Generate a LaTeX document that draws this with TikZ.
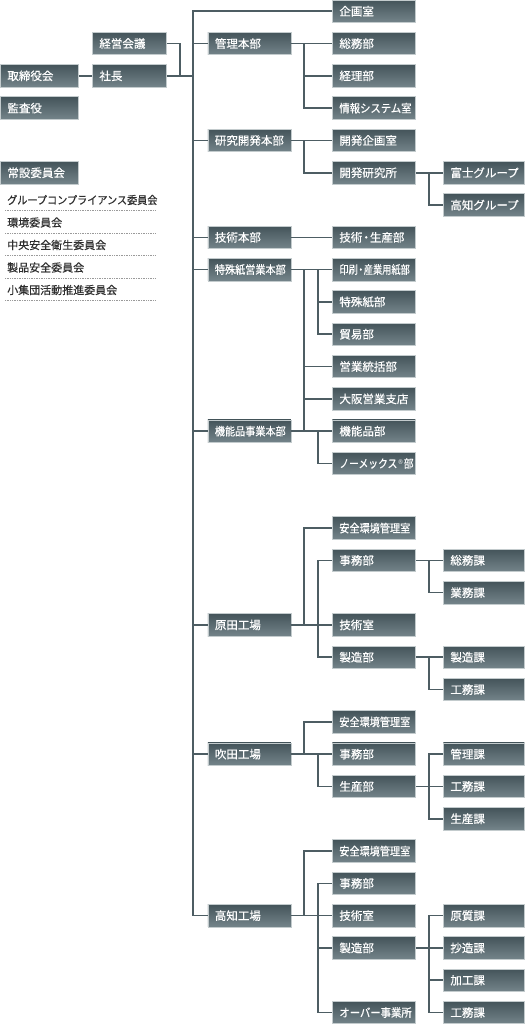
\documentclass[tikz,border=0pt]{standalone}
\usepackage{fontspec}
\usepackage{graphicx}
\newfontfamily\cjk{Noto Sans CJK JP}
\newfontfamily\cjkb[FakeBold=0.5]{Noto Sans CJK JP}
\newfontfamily\djv{DejaVu Sans}
\definecolor{boxtop}{HTML}{44545A}
\definecolor{boxbot}{HTML}{74848A}
\definecolor{boxedge}{HTML}{C3CBCD}
\definecolor{linec}{HTML}{4D5D63}
\definecolor{listtext}{HTML}{2E2E2E}
\definecolor{dotc}{HTML}{9A9A9A}
\newcommand\R[1]{11.25+32.3*#1}
\newcommand\nar[2]{\scalebox{#1}[1]{#2}}
\begin{document}
\begin{tikzpicture}[x=1pt,y=-1pt,
  box/.style={draw=boxedge, line width=0.8pt, top color=boxtop, bottom color=boxbot,
    text=white, font=\cjkb\fontsize{11.5}{13}\selectfont, minimum height=22.5pt,
    inner xsep=7pt, inner ysep=0pt, align=left, anchor=west},
  colA/.style={box, text width=64pt},
  colB/.style={box, text width=60pt},
  colC/.style={box, text width=69pt},
  colD/.style={box, text width=69pt},
  colE/.style={box, text width=67pt},
  conn/.style={draw=linec, line width=1.6pt},
  listitem/.style={text=listtext, font=\cjkb\fontsize{11}{13}\selectfont, anchor=west, inner sep=0pt},
  dotline/.style={draw=dotc, line width=0.7pt, dash pattern=on 0.8pt off 0.9pt}
]
\useasboundingbox (0,0) rectangle (526,1024);

% column A
\node[colA] (torishimari) at (0,\R{2}) {取締役会};
\node[colA] (kansa) at (0,\R{3}) {監査役};
\node[colA] (joset) at (0,\R{5}) {常設委員会};
% column B
\node[colB] (keiei) at (92,\R{1}) {経営会議};
\node[colB] (shacho) at (92,\R{2}) {社長};
% column C
\node[colC] (kanri) at (207.5,\R{1}) {管理本部};
\node[colC] (kenkyu) at (207.5,\R{4}) {研究開発本部};
\node[colC] (gijutsuH) at (207.5,\R{7}) {技術本部};
\node[colC] (tokushu) at (207.5,\R{8}) {\nar{0.88}{特殊紙営業本部}};
\node[colC] (kinou) at (207.5,\R{13}) {\nar{0.88}{機能品事業本部}};
\node[colC] (harada) at (207.5,\R{19}) {原田工場};
\node[colC] (suita) at (207.5,\R{23}) {吹田工場};
\node[colC] (kochi) at (207.5,\R{28}) {高知工場};
% column D
\node[colD] (kikaku) at (332,\R{0}) {企画室};
\node[colD] (somu) at (332,\R{1}) {総務部};
\node[colD] (keiri) at (332,\R{2}) {経理部};
\node[colD] (joho) at (332,\R{3}) {\nar{0.9}{情報システム室}};
\node[colD] (kaikik) at (332,\R{4}) {開発企画室};
\node[colD] (kaiken) at (332,\R{5}) {開発研究所};
\node[colD] (gisei) at (332,\R{7}) {技術\kern-2pt・\kern-2pt生産部};
\node[colD] (insatsu) at (332,\R{8}) {\nar{0.8}{印刷\kern-2pt・\kern-2pt産業用紙部}};
\node[colD] (tokushuB) at (332,\R{9}) {特殊紙部};
\node[colD] (boeki) at (332,\R{10}) {貿易部};
\node[colD] (eigyo) at (332,\R{11}) {営業統括部};
\node[colD] (osaka) at (332,\R{12}) {大阪営業支店};
\node[colD] (kinouB) at (332,\R{13}) {機能品部};
\node[colD] (nomex) at (332,\R{14}) {\nar{0.85}{ノーメックス\kern0.5pt\raisebox{3.5pt}{\djv\fontsize{6.5}{7}\selectfont ®}\kern0.5pt部}};
\node[colD] (hAnzen) at (332,\R{16}) {\nar{0.88}{安全環境管理室}};
\node[colD] (hJimu) at (332,\R{17}) {事務部};
\node[colD] (hGiju) at (332,\R{19}) {技術室};
\node[colD] (hSeizo) at (332,\R{20}) {製造部};
\node[colD] (sAnzen) at (332,\R{22}) {\nar{0.88}{安全環境管理室}};
\node[colD] (sJimu) at (332,\R{23}) {事務部};
\node[colD] (sSeisan) at (332,\R{24}) {生産部};
\node[colD] (kAnzen) at (332,\R{26}) {\nar{0.88}{安全環境管理室}};
\node[colD] (kJimu) at (332,\R{27}) {事務部};
\node[colD] (kGiju) at (332,\R{28}) {技術室};
\node[colD] (kSeizo) at (332,\R{29}) {製造部};
\node[colD] (kOver) at (332,\R{31}) {\nar{0.9}{オーバー事業所}};
% column E
\node[colE] (fuji) at (443,\R{5}) {富士グループ};
\node[colE] (kochiG) at (443,\R{6}) {高知グループ};
\node[colE] (hSomuK) at (443,\R{17}) {総務課};
\node[colE] (hGyomu) at (443,\R{18}) {業務課};
\node[colE] (hSeizoK) at (443,\R{20}) {製造課};
\node[colE] (hKomu) at (443,\R{21}) {工務課};
\node[colE] (sKanri) at (443,\R{23}) {管理課};
\node[colE] (sKomu) at (443,\R{24}) {工務課};
\node[colE] (sSeisanK) at (443,\R{25}) {生産課};
\node[colE] (kGenshitsu) at (443,\R{28}) {原質課};
\node[colE] (kShozo) at (443,\R{29}) {抄造課};
\node[colE] (kKako) at (443,\R{30}) {加工課};
\node[colE] (kKomu) at (443,\R{31}) {工務課};

% committee list
\node[listitem] (c1) at (7,200) {\nar{0.92}{グループコンプライアンス委員会}};
\node[listitem] (c2) at (7,222.5) {環境委員会};
\node[listitem] (c3) at (7,245) {中央安全衛生委員会};
\node[listitem] (c4) at (7,267.5) {製品安全委員会};
\node[listitem] (c5) at (7,290) {小集団活動推進委員会};
\foreach \yy in {210.5,233,255.5,278,300.5}
  \draw[dotline] (5,\yy) -- (155,\yy);

% helper coordinates
\coordinate (t) at (193,0);
\coordinate (j) at (180,\R{2});
\coordinate (v1) at (304,0);
\coordinate (v2) at (318,0);
\coordinate (v3) at (429,0);
\coordinate (tb) at (193,\R{28});

% top level
\draw[conn] (torishimari.east) -- (shacho.west);
\draw[conn] (keiei.east) -| (j);
\draw[conn] (shacho.east) -- (shacho.east -| t);
\draw[conn] (kikaku.west) -| (tb) -- (kochi.west);
\foreach \n in {kanri,kenkyu,gijutsuH,tokushu,kinou,harada,suita}
  \draw[conn] (\n.west -| t) -- (\n.west);

% 管理本部
\draw[conn] (kanri.east) -- (somu.west);
\draw[conn] (kanri.east -| v1) |- (joho.west);
\draw[conn] (keiri.west -| v1) -- (keiri.west);
% 研究開発本部
\draw[conn] (kenkyu.east) -- (kaikik.west);
\draw[conn] (kenkyu.east -| v1) |- (kaiken.west);
\draw[conn] (kaiken.east) -- (fuji.west);
\draw[conn] (kaiken.east -| v3) |- (kochiG.west);
% 技術本部
\draw[conn] (gijutsuH.east) -- (gisei.west);
% 特殊紙営業本部 / 機能品事業本部
\draw[conn] (tokushu.east) -- (insatsu.west);
\draw[conn] (tokushu.east -| v2) |- (boeki.west);
\draw[conn] (tokushuB.west -| v2) -- (tokushuB.west);
\draw[conn] (tokushu.east -| v1) -- (kinou.east -| v1);
\draw[conn] (eigyo.west -| v1) -- (eigyo.west);
\draw[conn] (osaka.west -| v1) -- (osaka.west);
\draw[conn] (kinou.east) -- (kinouB.west);
\draw[conn] (kinou.east -| v2) |- (nomex.west);
% 原田工場
\draw[conn] (harada.east) -- (hGiju.west);
\draw[conn] (harada.east -| v1) |- (hAnzen.west);
\draw[conn] (hJimu.west) -| (hSeizo.west -| v2) -- (hSeizo.west);
\draw[conn] (hJimu.east) -- (hSomuK.west);
\draw[conn] (hJimu.east -| v3) |- (hGyomu.west);
\draw[conn] (hSeizo.east) -- (hSeizoK.west);
\draw[conn] (hSeizo.east -| v3) |- (hKomu.west);
% 吹田工場
\draw[conn] (suita.east) -- (sJimu.west);
\draw[conn] (suita.east -| v1) |- (sAnzen.west);
\draw[conn] (suita.east -| v2) |- (sSeisan.west);
\draw[conn] (sSeisan.east) -- (sKomu.west);
\draw[conn] (sKanri.west) -| (sSeisanK.west -| v3) -- (sSeisanK.west);
% 高知工場
\draw[conn] (kochi.east) -- (kGiju.west);
\draw[conn] (kochi.east -| v1) |- (kAnzen.west);
\draw[conn] (kJimu.west) -| (kOver.west -| v2) -- (kOver.west);
\draw[conn] (kSeizo.west -| v2) -- (kSeizo.west);
\draw[conn] (kSeizo.east) -- (kShozo.west);
\draw[conn] (kGenshitsu.west) -| (kKomu.west -| v3) -- (kKomu.west);
\draw[conn] (kKako.west -| v3) -- (kKako.west);
\end{tikzpicture}
\end{document}
